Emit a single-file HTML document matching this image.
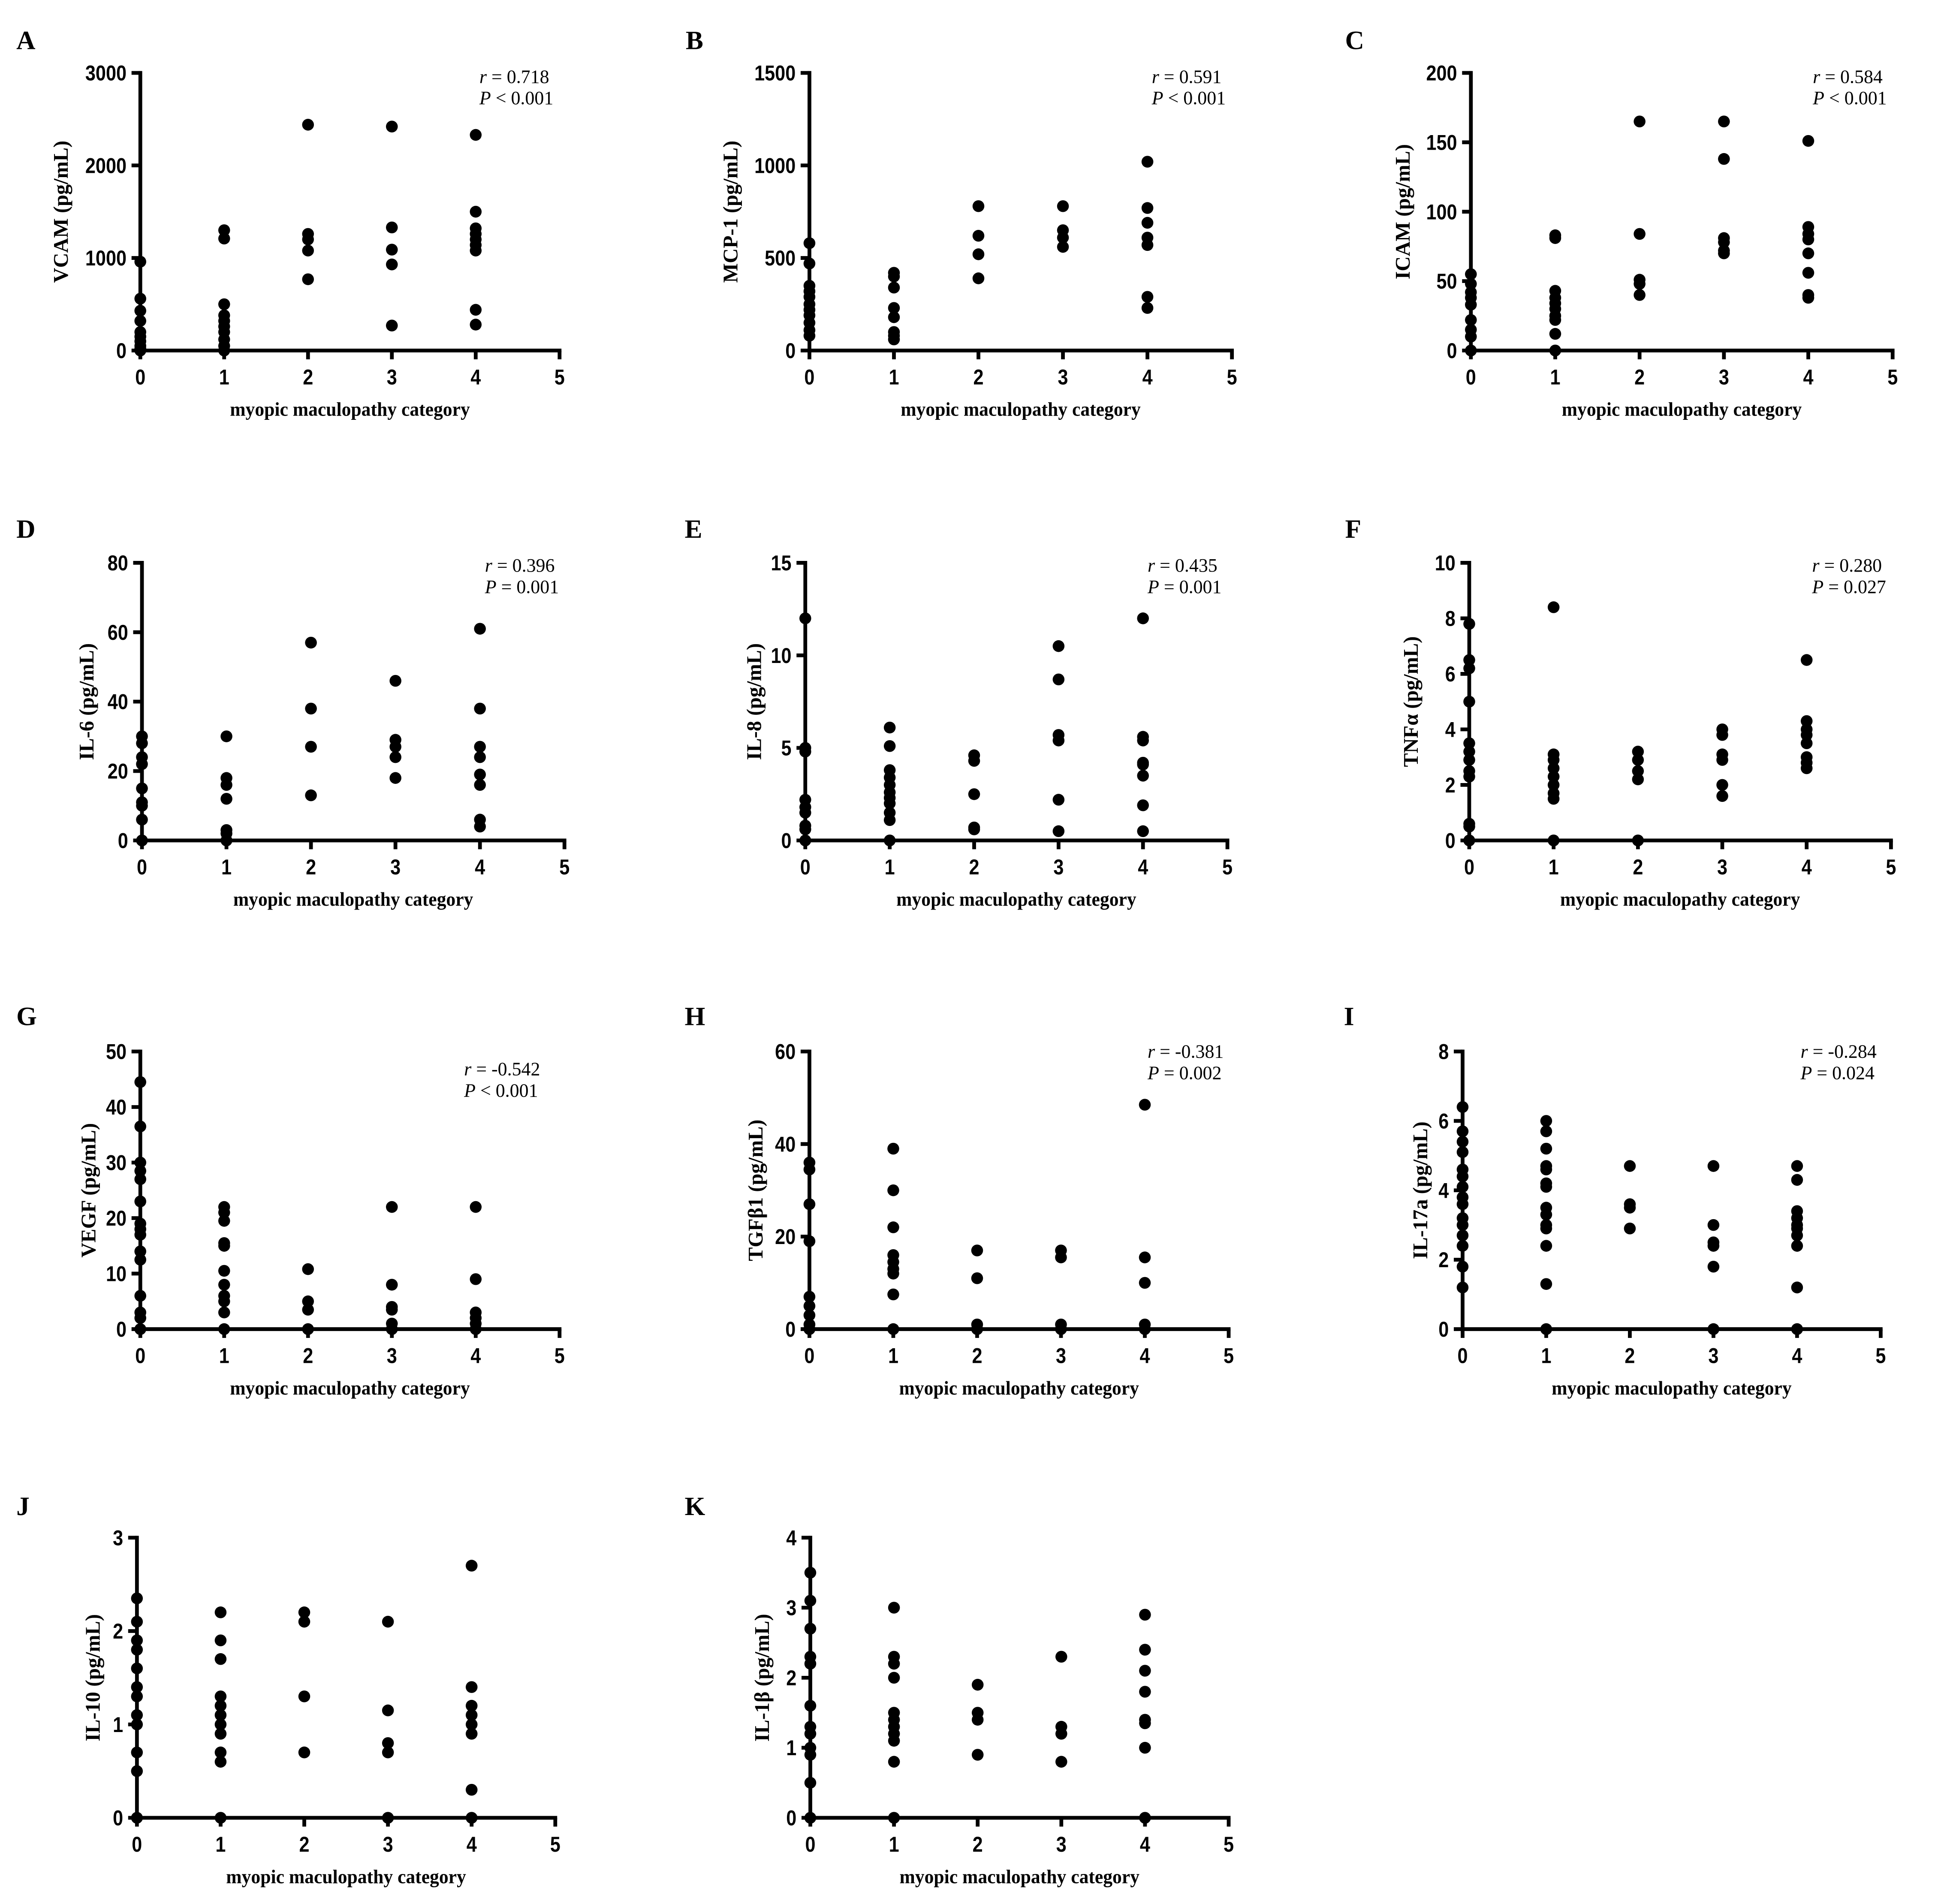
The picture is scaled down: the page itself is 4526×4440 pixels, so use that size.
<!DOCTYPE html>
<html><head><meta charset="utf-8"><style>html,body{margin:0;padding:0;background:#fff}svg{display:block}</style></head>
<body>
<svg id="fig" xmlns="http://www.w3.org/2000/svg" width="4526" height="4440" viewBox="0 0 1545 1515.6"></svg>
<script>
const panelLetters=["A","B","C","D","E","F","G","H","I","J","K"];
const yTitles=["VCAM (pg/mL)","MCP-1 (pg/mL)","ICAM  (pg/mL)","IL-6  (pg/mL)","IL-8  (pg/mL)","TNFα (pg/mL)","VEGF (pg/mL)","TGFβ1 (pg/mL)","IL-17a  (pg/mL)","IL-10 (pg/mL)","IL-1β  (pg/mL)"];
const yMaxes=[3000,1500,200,80,15,10,50,60,8,3,4];
const yTicks=[[0,1000,2000,3000],[0,500,1000,1500],[0,50,100,150,200],[0,20,40,60,80],[0,5,10,15],[0,2,4,6,8,10],[0,10,20,30,40,50],[0,20,40,60],[0,2,4,6,8],[0,1,2,3],[0,1,2,3,4]];
const xTicks=[0,1,2,3,4,5];
const rTexts=["0.718","0.591","0.584","0.396","0.435","0.280","-0.542","-0.381","-0.284",null,null];
const pTexts=["< 0.001","< 0.001","< 0.001","= 0.001","= 0.001","= 0.027","< 0.001","= 0.002","= 0.024",null,null];
const vcam=[[960,560,430,320,200,150,100,50,20,0],[1300,1210,500,380,320,260,200,120,50,0],[2440,1260,1200,1080,770],[2420,1330,1090,930,270],[2330,1500,1320,1260,1200,1140,1080,440,280]];
const mcp1=[[580,470,350,320,290,250,220,190,150,110,80],[420,400,340,230,180,100,80,60],[780,620,520,390],[780,650,610,560],[1020,770,690,610,570,290,230]];
const icam=[[55,48,42,38,33,22,15,10,0],[83,81,43,38,34,30,25,22,12,0],[165,84,51,48,40],[165,138,81,78,72,70],[151,89,84,80,70,56,40,38]];
const il6=[[30,28,24,22,15,11,10,6,0],[30,18,16,12,3,2,0],[57,38,27,13],[46,29,27,24,18],[61,38,27,24,19,16,6,4]];
const il8=[[12,5,4.8,2.2,1.8,1.5,0.8,0.6,0],[6.1,5.1,3.8,3.4,3.0,2.6,2.3,2.0,1.5,1.1,0],[4.6,4.3,2.5,0.7,0.6],[10.5,8.7,5.7,5.4,2.2,0.5],[12,5.6,5.4,4.2,4.1,3.5,1.9,0.5]];
const tnfa=[[7.8,6.5,6.2,5.0,3.5,3.2,2.9,2.5,2.3,0.6,0.5,0],[8.4,3.1,2.9,2.6,2.3,2.0,1.7,1.5,0],[3.2,2.9,2.5,2.2,0],[4.0,3.8,3.1,2.9,2.0,1.6],[6.5,4.3,4.0,3.8,3.5,3.0,2.8,2.6]];
const vegf=[[44.5,36.5,30,28.5,27,23,19,18,17,14,12.5,6,3,2,0],[22,21,19.5,15.5,15,10.5,8,6,5,3,0],[10.8,5,3.5,0],[22,8,4,3.5,1,0],[22,9,3,2,1,0]];
const tgfb1=[[36,34.5,27,19,7,5,3,1,0],[39,30,22,16,14.5,13,12,7.5,0],[17,11,1,0],[17,15.5,1,0],[48.5,15.5,10,1,0]];
const il17a=[[6.4,5.7,5.4,5.1,4.6,4.4,4.1,3.8,3.6,3.2,3.0,2.7,2.4,1.8,1.2],[6.0,5.7,5.2,4.7,4.6,4.2,4.1,3.5,3.3,3.0,2.9,2.4,1.3,0],[4.7,3.6,3.5,2.9],[4.7,3.0,2.5,2.4,1.8,0],[4.7,4.3,3.4,3.2,3.0,2.9,2.7,2.4,1.2,0]];
const il10=[[2.35,2.1,1.9,1.8,1.6,1.4,1.3,1.1,1.0,0.7,0.5,0],[2.2,1.9,1.7,1.3,1.2,1.1,1.0,0.9,0.7,0.6,0],[2.2,2.1,1.3,0.7],[2.1,1.15,0.8,0.7,0],[2.7,1.4,1.2,1.1,1.0,0.9,0.3,0]];
const il1b=[[3.5,3.1,2.7,2.3,2.2,1.6,1.3,1.2,1.0,0.9,0.5,0],[3.0,2.3,2.2,2.0,1.5,1.4,1.3,1.2,1.1,0.8,0],[1.9,1.5,1.4,0.9],[2.3,1.3,1.2,0.8],[2.9,2.4,2.1,1.8,1.4,1.35,1.0,0]];
const allData=[vcam,mcp1,icam,il6,il8,tnfa,vegf,tgfb1,il17a,il10,il1b];

// layout (display units): axis box, letter pos, y-title centre x, annotation left x / r centre y
const L=[
 {x0:111.7,x5:445.4,yt:58,yb:279,lx:13,ly:39,ytx:48,ax:381.6,ay:61},
 {x0:644.3,x5:980.6,yt:58,yb:279,lx:545.8,ly:39,ytx:581,ax:916.8,ay:61},
 {x0:1170.8,x5:1506.5,yt:58,yb:279,lx:1070.7,ly:39,ytx:1116,ax:1443,ay:61},
 {x0:113,x5:449.3,yt:448,yb:669,lx:13,ly:428,ytx:68.4,ax:386,ay:450},
 {x0:641,x5:977,yt:448,yb:669,lx:545,ly:428,ytx:599.7,ax:913.5,ay:450},
 {x0:1169.5,x5:1505.2,yt:448,yb:669,lx:1070.7,ly:428,ytx:1122.6,ax:1442.4,ay:450},
 {x0:111.7,x5:445.4,yt:837,yb:1058,lx:13,ly:816,ytx:70,ax:369.4,ay:851},
 {x0:644.3,x5:978,yt:837,yb:1058,lx:545,ly:816,ytx:601,ax:913.5,ay:837},
 {x0:1164.2,x5:1497,yt:837,yb:1058,lx:1069.7,ly:816,ytx:1130,ax:1433.2,ay:837},
 {x0:109,x5:442,yt:1224,yb:1447,lx:13,ly:1206,ytx:73.3,ax:0,ay:0},
 {x0:645,x5:978,yt:1224,yb:1447,lx:545,ly:1206,ytx:606,ax:0,ay:0}
];
const NS="http://www.w3.org/2000/svg";
const svg=document.getElementById('fig');
function mk(tag,attrs,parent){const e=document.createElementNS(NS,tag);for(const k in attrs)e.setAttribute(k,attrs[k]);parent.appendChild(e);return e;}
const sans='"Liberation Sans", Arial, sans-serif', serif='"Liberation Serif", "Times New Roman", serif';
allData.forEach((data,i)=>{
  const p=L[i];
  const g=mk('g',{},svg);
  
  
  const xs=v=>p.x0+(p.x5-p.x0)*v/5;
  const ys=v=>p.yb-(p.yb-p.yt)*v/yMaxes[i];
  const lt=mk('text',{x:p.lx,y:p.ly,'font-family':serif,'font-weight':'bold','font-size':21},g);lt.textContent=panelLetters[i];
  
  
  const ax=mk('g',{stroke:'#000','stroke-width':3,fill:'none'},g);
  
  
  mk('line',{x1:p.x0,y1:p.yt-1.5,x2:p.x0,y2:p.yb},ax);
  mk('line',{x1:p.x0,y1:p.yb,x2:p.x5+1.5,y2:p.yb},ax);
  yTicks[i].forEach(t=>{
    const y=ys(t);
    mk('line',{x1:p.x0-7,y1:y,x2:p.x0,y2:y},ax);
    const s=String(t);
    const tx=mk('text',{x:p.x0-11,y:y+6,'text-anchor':'end','font-family':sans,'font-weight':'bold','font-size':17,textLength:8.2*s.length,lengthAdjust:'spacingAndGlyphs'},g);
    tx.textContent=s;
    
    
  });
  xTicks.forEach(t=>{
    const x=xs(t);
    mk('line',{x1:x,y1:p.yb,x2:x,y2:p.yb+7},ax);
    const tx=mk('text',{x:x,y:p.yb+27,'text-anchor':'middle','font-family':sans,'font-weight':'bold','font-size':17,textLength:8.2,lengthAdjust:'spacingAndGlyphs'},g);
    tx.textContent=t;
    
    
  });
  const xt=mk('text',{x:(p.x0+p.x5)/2,y:p.yb+52,'text-anchor':'middle','font-family':serif,'font-weight':'bold','font-size':15.5,textLength:191,lengthAdjust:'spacingAndGlyphs'},g);
  xt.textContent='myopic maculopathy category';
  
  
  const ym=(p.yt+p.yb)/2;
  const bx=p.ytx+6;
  const yt=mk('text',{x:bx,y:ym,'text-anchor':'middle','font-family':serif,'font-weight':'bold','font-size':16.5,transform:`rotate(-90 ${bx} ${ym})`,'xml:space':'preserve'},g);
  yt.textContent=yTitles[i];
  
  
  if(rTexts[i]){
    const a=mk('text',{x:p.ax,y:p.ay+5,'font-family':serif,'font-size':15},g);
    a.innerHTML='<tspan font-style="italic">r</tspan> = '+rTexts[i];
    
    
    const b=mk('text',{x:p.ax,y:p.ay+22,'font-family':serif,'font-size':15},g);
    b.innerHTML='<tspan font-style="italic">P</tspan> '+pTexts[i];
    
    
  }
  data.forEach((vals,c)=>{
    vals.forEach(v=>{
      const d=mk('circle',{cx:xs(c),cy:ys(v),r:4.7,fill:'#000'},g);
      
      
    });
  });
});
</script>
</body></html>
